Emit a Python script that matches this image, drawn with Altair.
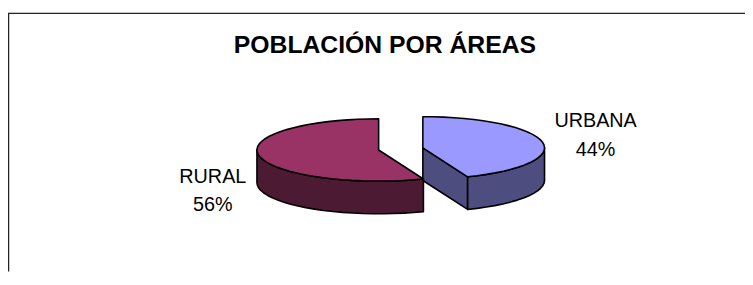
import math
import pandas as pd
import altair as alt

# ---- data ----
categories = ["URBANA", "RURAL"]
values = [44, 56]
top_colors = ["#9999FF", "#993366"]
side_colors = ["#4D4D80", "#4D1A33"]
title_text = "POBLACIÓN POR ÁREAS"

# ---- layout / style (view pixels) ----
W, H = 745, 265
CX, CY = 397.0, 141.0      # pie centre
RX, RY = 123.0, 31.5       # ellipse radii of the tilted pie
DEPTH = 33.0               # thickness of the 3D pie
EXPLODE = 0.185            # explode distance as fraction of radius
STEPS = 72
FONT = "Liberation Sans"
LABEL_FS = 20


def rim(cx, cy, ang, dz=0.0):
    r = math.radians(ang)
    return cx + RX * math.sin(r), cy - RY * math.cos(r) + dz


def arc_pts(cx, cy, a0, a1, dz=0.0):
    n = max(2, int(STEPS * (a1 - a0) / 360) + 2)
    return [rim(cx, cy, a0 + (a1 - a0) * k / (n - 1), dz) for k in range(n)]


polys = []   # (id, fill, points)
labels = []
total = sum(values)
start = 0.0
for i, (cat, val) in enumerate(zip(categories, values)):
    sweep = 360.0 * val / total
    a0, a1 = start, start + sweep
    mid = math.radians((a0 + a1) / 2)
    cx = CX + EXPLODE * RX * math.sin(mid)
    cy = CY - EXPLODE * RY * math.cos(mid)
    # visible radial faces
    if math.sin(math.radians(a0)) < -1e-6:
        p = rim(cx, cy, a0)
        polys.append((f"f0{i}", side_colors[i],
                      [(cx, cy), p, (p[0], p[1] + DEPTH), (cx, cy + DEPTH)]))
    if math.sin(math.radians(a1)) > 1e-6:
        p = rim(cx, cy, a1)
        polys.append((f"f1{i}", side_colors[i],
                      [(cx, cy), p, (p[0], p[1] + DEPTH), (cx, cy + DEPTH)]))
    # visible rim wall (front half: 90..270)
    w0, w1 = max(a0, 90.0), min(a1, 270.0)
    if w1 > w0:
        top = arc_pts(cx, cy, w0, w1)
        bot = arc_pts(cx, cy, w0, w1, DEPTH)[::-1]
        polys.append((f"w{i}", side_colors[i], top + bot))
    # top face
    polys.append((f"t{i}", top_colors[i], [(cx, cy)] + arc_pts(cx, cy, a0, a1)))
    # label
    s = math.sin(mid)
    half_w = len(cat) * LABEL_FS * 0.35
    lx = cx + s * (RX + 12) + (half_w if s >= 0 else -half_w)
    ly = cy - math.cos(mid) * 145 + 6
    labels.append({"x": lx, "y": ly, "text": f"{cat}\n{val}%"})
    start = a1

xs = alt.Scale(domain=[0, W], range=[0, W])
ys = alt.Scale(domain=[0, H], range=[0, H])

layers = []
for pid, col, pts in polys:
    df = pd.DataFrame({"x": [p[0] for p in pts], "y": [p[1] for p in pts],
                       "o": list(range(len(pts)))})
    layers.append(
        alt.Chart(df).mark_line(interpolate="linear-closed", fill=col,
                                stroke="black", strokeWidth=1.6,
                                strokeJoin="round")
        .encode(x=alt.X("x:Q", scale=xs, axis=None),
                y=alt.Y("y:Q", scale=ys, axis=None),
                order="o:Q")
    )

lab = alt.Chart(pd.DataFrame(labels)).mark_text(
    font=FONT, fontSize=LABEL_FS, lineBreak="\n", lineHeight=29,
    align="center", baseline="alphabetic", color="black"
).encode(x=alt.X("x:Q", scale=xs, axis=None),
         y=alt.Y("y:Q", scale=ys, axis=None), text="text:N")

title = alt.Chart(pd.DataFrame({"t": [title_text]})).mark_text(
    font=FONT, fontSize=25, fontWeight="bold", align="center",
    baseline="alphabetic", color="black"
).encode(x=alt.value(381), y=alt.value(44), text="t:N")

frame_top = alt.Chart(pd.DataFrame({"a": [0]})).mark_rule(
    color="#222", strokeWidth=1.5).encode(
    x=alt.value(0), x2=alt.value(W), y=alt.value(4))
frame_left = alt.Chart(pd.DataFrame({"a": [0]})).mark_rule(
    color="#222", strokeWidth=1.5).encode(
    x=alt.value(0.5), y=alt.value(4), y2=alt.value(H))

chart = alt.layer(frame_top, frame_left, title, *layers, lab).properties(
    width=W, height=H, padding=0,
    autosize=alt.AutoSizeParams(type="none"),
    background="white",
).configure_view(stroke=None)

chart.save("out.html", embed_options={"renderer": "svg", "actions": False})
